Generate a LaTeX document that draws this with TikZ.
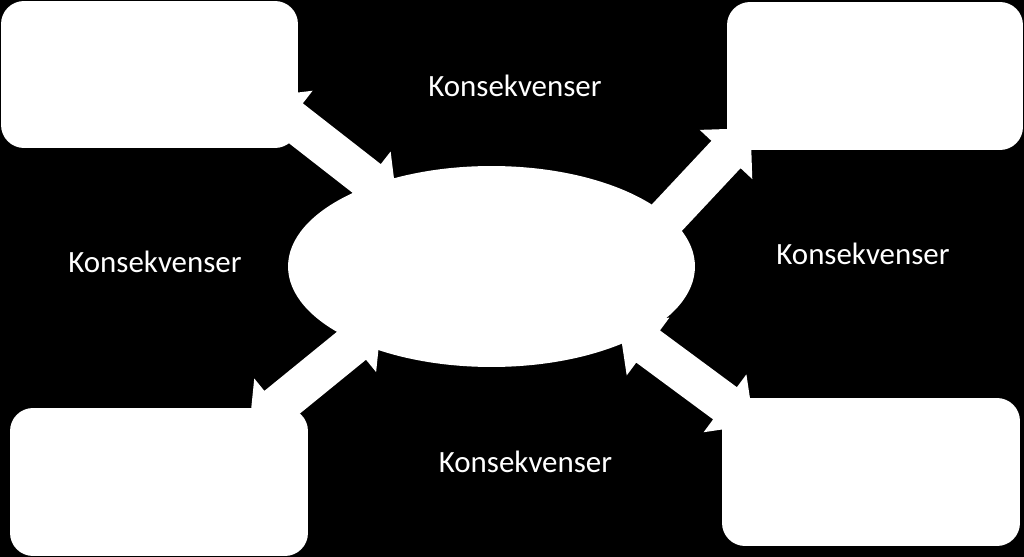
\documentclass[tikz,border=0pt]{standalone}
\usepackage{fontspec}
\setmainfont{Carlito}
\usetikzlibrary{calc,shapes.geometric}
\tikzset{
  px/.style={x=0.02cm,y=-0.02cm},
  whitebox/.style={rectangle, rounded corners=0.46cm, fill=white, draw=none, inner sep=0pt},
  hub/.style={ellipse, fill=white, draw=none, inner sep=0pt},
  lbl/.style={text=white, font=\fontsize{17.6}{20}\selectfont, inner sep=0pt, anchor=base},
  blockarrow/.style={fill=white, draw=none}
}
\newcommand{\dblarrow}[2]{%
  \fill[blockarrow]
    ($(#1)!-0.72cm!(#2)$) --
    ($(#1)!0.72cm!90:(#2)$) --
    ($(#1)!0.4cm!90:(#2)$) --
    ($(#2)!0.4cm!-90:(#1)$) --
    ($(#2)!0.72cm!-90:(#1)$) --
    ($(#2)!-0.72cm!(#1)$) --
    ($(#2)!0.72cm!90:(#1)$) --
    ($(#2)!0.4cm!90:(#1)$) --
    ($(#1)!0.4cm!-90:(#2)$) --
    ($(#1)!0.72cm!-90:(#2)$) -- cycle;}
\begin{document}
\begin{tikzpicture}[px]
\fill[black] (0,0) rectangle (1024,557);
\useasboundingbox (0,0) rectangle (1024,557);
% boxes
\node[whitebox, minimum width=5.94cm, minimum height=2.94cm] (tl) at (149.5,74.5) {};
\node[whitebox, minimum width=5.92cm, minimum height=2.96cm] (tr) at (875,76) {};
\node[whitebox, minimum width=5.96cm, minimum height=2.96cm] (bl) at (159,482) {};
\node[whitebox, minimum width=5.96cm, minimum height=2.96cm] (br) at (871,472) {};
% centre ellipse
\node[hub, minimum width=8.14cm, minimum height=4.02cm] (hub) at (491.5,266.5) {};
% arrow end points (notch centres)
\coordinate (tlA) at (290.5,119.1);
\coordinate (tlB) at (368.5,179.9);
\coordinate (trA) at (726,154.5);
\coordinate (trB) at (658.3,226.8);
\coordinate (blA) at (277,406.4);
\coordinate (blB) at (353.4,344.2);
\coordinate (brA) at (725,403.3);
\coordinate (brB) at (648.1,346.5);
\dblarrow{tlA}{tlB}
\dblarrow{trA}{trB}
\dblarrow{blA}{blB}
\dblarrow{brA}{brB}
% labels
\node[lbl] (l1) at (515,96.7) {Konsekvenser};
\node[lbl] (l2) at (155,272.3) {Konsekvenser};
\node[lbl] (l3) at (863,264.3) {Konsekvenser};
\node[lbl] (l4) at (525.5,472) {Konsekvenser};
\end{tikzpicture}
\end{document}
